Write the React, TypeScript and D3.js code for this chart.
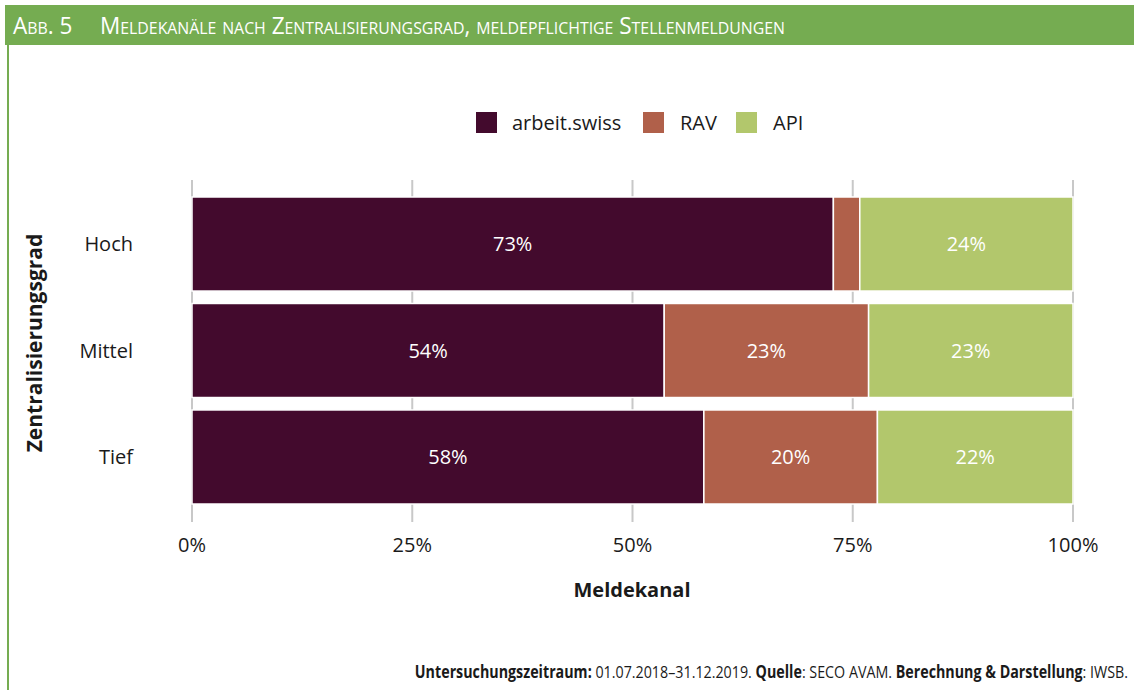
import * as d3 from 'd3';

const categories = ['Hoch', 'Mittel', 'Tief'];
const seriesNames = ['arbeit.swiss', 'RAV', 'API'];
const arbeitSwiss = [72.8, 53.6, 58.1];
const rav = [3.0, 23.2, 19.7];
const api = [24.2, 23.2, 22.2];
const xTicks = [0, 25, 50, 75, 100];

const COLORS = ['#430a2d', '#b0604a', '#b2c76c'];
const GREEN = '#75ac51';

const W = 1134;
const H = 690;

export default function App() {
  const x = d3.scaleLinear().domain([0, 100]).range([192, 1073]);
  const y = d3.scaleBand<string>().domain(categories).range([197, 504]).paddingInner(0.117).paddingOuter(0);

  const rows = categories.map((c, i) => ({ cat: c, a: arbeitSwiss[i], r: rav[i], p: api[i] }));
  const stack = d3.stack<{ cat: string; a: number; r: number; p: number }>().keys(['a', 'r', 'p'])(rows);

  const legendItems = [
    { name: seriesNames[0], sx: 476, tx: 512 },
    { name: seriesNames[1], sx: 643, tx: 680 },
    { name: seriesNames[2], sx: 736, tx: 773 },
  ];

  const font = '"Open Sans", sans-serif';

  return (
    <svg width={W} height={H} style={{ position: 'absolute', left: 0, top: 0, background: '#fff' }}>
      <rect x={5} y={5} width={W - 5} height={40} fill={GREEN} />
      <rect x={7} y={45} width={2} height={H - 45} fill={GREEN} />
      <g transform="translate(13, 34) scale(0.98, 1)">
        <text x={0} y={0} fill="#fff" fontFamily={font} fontSize={23} style={{ fontVariant: 'small-caps' }}>
          Abb. 5
        </text>
      </g>
      <g transform="translate(100, 34) scale(0.98, 1)">
        <text x={0} y={0} fill="#fff" fontFamily={font} fontSize={23} style={{ fontVariant: 'small-caps' }}>
          Meldekanäle nach Zentralisierungsgrad, meldepflichtige Stellenmeldungen
        </text>
      </g>

      {legendItems.map((l, i) => (
        <g key={l.name}>
          <rect x={l.sx} y={112} width={21} height={21} fill={COLORS[i]} />
          <text x={l.tx} y={130} fontFamily={font} fontSize={20} fill="#1a1a1a">
            {l.name}
          </text>
        </g>
      ))}

      {xTicks.map((t) => (
        <line key={t} x1={x(t)} x2={x(t)} y1={180} y2={522} stroke="#c8c8c8" strokeWidth={2} />
      ))}

      {stack.map((s, si) =>
        s.map((d) => {
          const y0 = y(d.data.cat)!;
          const w = x(d[1]) - x(d[0]);
          const v = d[1] - d[0];
          return (
            <g key={`${si}-${d.data.cat}`}>
              <rect x={x(d[0])} y={y0} width={w} height={y.bandwidth()} fill={COLORS[si]} stroke="#fff" strokeWidth={1.5} />
              {v >= 5 && (
                <text
                  x={x(d[0]) + w / 2}
                  y={y0 + y.bandwidth() / 2 + 7}
                  textAnchor="middle"
                  fontFamily={font}
                  fontSize={20}
                  fill="#fff"
                >
                  {Math.round(v)}%
                </text>
              )}
            </g>
          );
        })
      )}

      {categories.map((c) => (
        <text key={c} x={133} y={y(c)! + y.bandwidth() / 2 + 7} textAnchor="end" fontFamily={font} fontSize={20} fill="#1a1a1a">
          {c}
        </text>
      ))}

      {xTicks.map((t) => (
        <text key={t} x={x(t)} y={552} textAnchor="middle" fontFamily={font} fontSize={20} fill="#1a1a1a">
          {t}%
        </text>
      ))}

      <text x={632} y={597} textAnchor="middle" fontFamily={font} fontSize={20} fontWeight="bold" fill="#1a1a1a">
        Meldekanal
      </text>
      <text
        transform={`translate(42, 343) rotate(-90)`}
        textAnchor="middle"
        fontFamily={font}
        fontSize={21}
        fontWeight="bold"
        fill="#1a1a1a"
      >
        Zentralisierungsgrad
      </text>

      <g transform="translate(1128, 678) scale(0.84, 1)">
        <text x={0} y={0} textAnchor="end" fontFamily={font} fontSize={17} fill="#1a1a1a">
          <tspan fontWeight="bold">Untersuchungszeitraum:</tspan>
          <tspan> 01.07.2018–31.12.2019. </tspan>
          <tspan fontWeight="bold">Quelle</tspan>
          <tspan>: SECO AVAM. </tspan>
          <tspan fontWeight="bold">Berechnung &amp; Darstellung</tspan>
          <tspan>: IWSB.</tspan>
        </text>
      </g>
    </svg>
  );
}
